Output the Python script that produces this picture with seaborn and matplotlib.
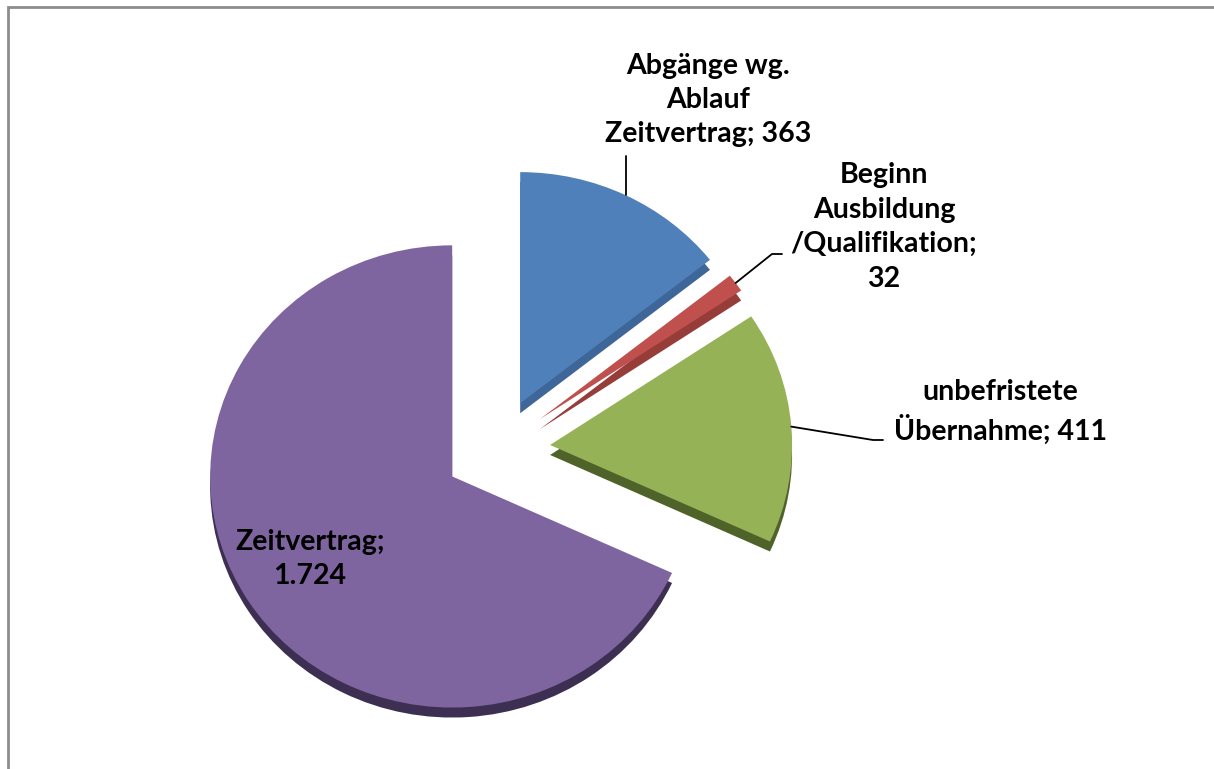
import numpy as np
import matplotlib
matplotlib.use("Agg")
import matplotlib.pyplot as plt
import matplotlib.patches as mpatches
import seaborn as sns

# data
categories = ["Abgänge wg. Ablauf Zeitvertrag", "Beginn Ausbildung /Qualifikation",
              "unbefristete Übernahme", "Zeitvertrag"]
values = [363, 32, 411, 1724]
label_texts = ["Abgänge wg.\nAblauf\nZeitvertrag; 363",
               "Beginn\nAusbildung\n/Qualifikation;\n32",
               "unbefristete\nÜbernahme; 411",
               "Zeitvertrag;\n1.724"]

top_colors = ["#4f80b9", "#c0504d", "#95b256", "#7f65a0"]
side_colors = ["#3e6698", "#963d3a", "#4f6229", "#3c2f52"]

sns.set_theme(style="white")
plt.rcParams["font.family"] = ["Lato", "DejaVu Sans"]

W, H = 1214, 769
K = 0.955  # vertical squash of the tilted pie


def py(y_img):
    # image pixel row -> data y (y up, squashed)
    return (H - y_img) / K


fig = plt.figure(figsize=(W / 100, H / 100), dpi=100)
ax = fig.add_axes([0, 0, 1, 1])

cx, cy = 497, py(449)
R = 242
depth = 10 / K
explode = [0.22 * R] * 4

# side (depth) of the 3D pie
ax.pie(values, colors=side_colors, startangle=90, counterclock=False,
       radius=R, center=(cx, cy - depth), explode=explode,
       wedgeprops=dict(linewidth=0), frame=True)
wedges, _ = ax.pie(values, colors=top_colors, startangle=90, counterclock=False,
                   radius=R, center=(cx, cy), explode=explode,
                   wedgeprops=dict(linewidth=0), frame=True)
ax.set_xlim(0, W)
ax.set_ylim(0, H / K)
ax.set_aspect("auto")
ax.axis("off")

label_pos = [(708, 100), (884, 227), (1000, 412), (310, 559)]
elbows = [None, (772, 254), (873, 440), None]
ends = [(627, 156), (782, 254), (883, 440), None]

for i, (w, txt) in enumerate(zip(wedges, label_texts)):
    x, y = label_pos[i]
    ax.text(x, py(y), txt, ha="center", va="center", fontsize=20.5,
            fontweight="bold", color="black", linespacing=1.4, zorder=5)
    if ends[i] is None:
        continue
    mid = np.deg2rad((w.theta1 + w.theta2) / 2)
    x0 = w.center[0] + w.r * np.cos(mid)
    y0 = w.center[1] + w.r * np.sin(mid)
    xs, ys = [x0], [y0]
    if elbows[i] is not None:
        xs += [elbows[i][0], ends[i][0]]
        ys += [py(elbows[i][1]), py(ends[i][1])]
    else:
        xs.append(x0)
        ys.append(py(ends[i][1]))
    ax.plot(xs, ys, color="black", lw=1.3, zorder=4)

# chart area border
border = mpatches.Rectangle((8, -20), W + 50, py(7) + 20, fill=False,
                            edgecolor="#8c8c8c", lw=2, zorder=6)
ax.add_patch(border)

fig.savefig("out.png", dpi=100)
